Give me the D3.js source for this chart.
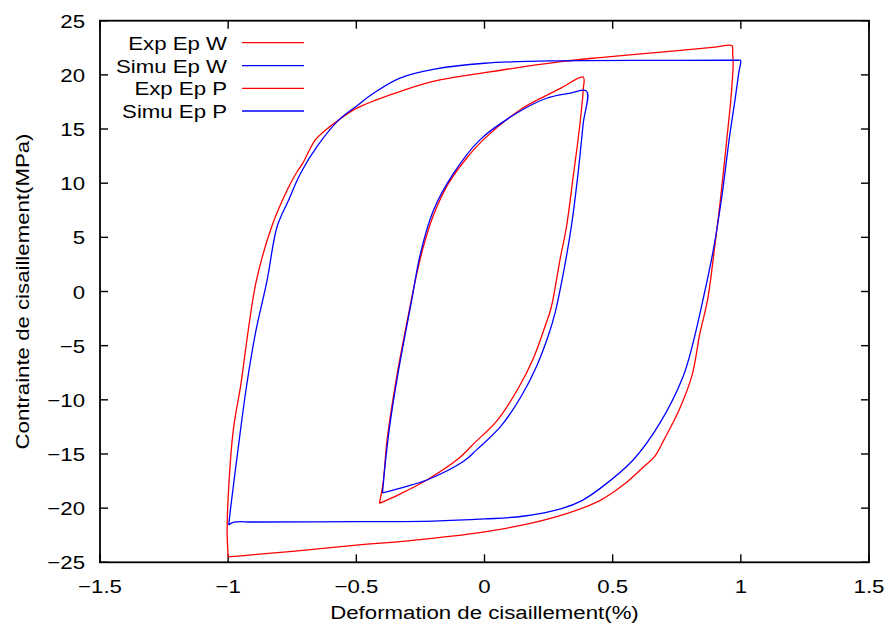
<!DOCTYPE html>
<html><head><meta charset="utf-8">
<script src="https://cdn.jsdelivr.net/npm/d3@7"></script>
<style>body{margin:0;background:#fff} svg{display:block} text{font-family:"Liberation Sans",Arial,sans-serif;font-size:19px;fill:#000}</style>
</head><body><svg id="c" width="890" height="632"></svg>
<script>
// ---- data ----
const xTicks = [-1.5, -1, -0.5, 0, 0.5, 1, 1.5];
const yTicks = [-25, -20, -15, -10, -5, 0, 5, 10, 15, 20, 25];
const xLabel = "Deformation de cisaillement(%)";
const yLabel = "Contrainte de cisaillement(MPa)";
const seriesNames = ["Exp Ep W", "Simu Ep W", "Exp Ep P", "Simu Ep P"];
const seriesColors = ["#ff0000", "#0000ff", "#ff0000", "#0000ff"];

const expW_x = [-1.0, -0.9, -0.75, -0.54, -0.25, 0.0, 0.25, 0.45, 0.55, 0.62, 0.665, 0.70, 0.76, 0.81, 0.84, 0.87, 0.90, 0.92, 0.945, 0.962, 0.97, 0.968, 0.965,
  0.9, 0.7, 0.45, 0.29, 0.0, -0.2, -0.35, -0.5, -0.57, -0.62, -0.66, -0.71, -0.73, -0.765, -0.83, -0.89, -0.92, -0.95, -0.98, -1.0, -1.004, -1.0];
const expW_y = [-24.5, -24.3, -24.0, -23.5, -22.9, -22.2, -21.0, -19.3, -17.7, -16.2, -15.2, -13.7, -10.9, -7.7, -3.9, -0.8, 4.5, 8.4, 14.0, 18.0, 21.1, 22.0, 22.7,
  22.56, 22.13, 21.6, 21.2, 20.2, 19.4, 18.3, 16.9, 15.8, 14.9, 14.0, 11.8, 11.1, 9.6, 6.0, 1.0, -3.3, -8.5, -12.8, -19.0, -22.3, -24.5];

const simW_x = [-0.998, -0.978, -0.9, -0.5, -0.2, 0.0, 0.15, 0.3, 0.38, 0.45, 0.578, 0.683, 0.774, 0.813, 0.852, 0.89, 0.924, 0.956, 0.978, 0.992, 0.999,
  0.99, 0.95, 0.7, 0.3, 0.0, -0.2, -0.33, -0.433, -0.5, -0.57, -0.653, -0.718, -0.764, -0.809, -0.848, -0.894, -0.93, -0.96, -0.99, -0.998];
const simW_y = [-21.56, -21.3, -21.28, -21.25, -21.2, -21.0, -20.75, -20.05, -19.3, -18.2, -15.6, -12.2, -7.9, -4.8, -0.8, 3.5, 8.45, 14.3, 17.8, 20.2, 21.35,
  21.35, 21.35, 21.34, 21.3, 21.07, 20.5, 19.7, 18.3, 17.1, 15.8, 13.4, 10.9, 8.45, 6.0, 1.06, -3.9, -9.0, -14.3, -19.9, -21.56];

const expP_x = [-0.41, -0.402, -0.394, -0.38, -0.342, -0.303, -0.27, -0.24, -0.2, -0.14, -0.07, -0.005, 0.138, 0.216, 0.3, 0.385,
  0.385, 0.37, 0.346, 0.32, 0.295, 0.26, 0.235, 0.19, 0.13, 0.05, -0.04, -0.1, -0.225, -0.33, -0.41];
const expP_y = [-19.56, -18.6, -17.4, -13.7, -7.8, -2.9, 1.0, 4.0, 7.0, 10.0, 12.3, 14.0, 16.76, 17.8, 18.8, 19.8,
  18.6, 15.0, 10.6, 6.0, 3.0, -1.5, -3.3, -6.2, -9.0, -11.9, -14.0, -15.4, -17.4, -18.7, -19.56];

const simP_x = [-0.398, -0.395, -0.39, -0.372, -0.34, -0.284, -0.25, -0.199, -0.121, -0.018, 0.125, 0.242, 0.33, 0.398,
  0.385, 0.365, 0.34, 0.31, 0.275, 0.25, 0.205, 0.145, 0.065, -0.03, -0.08, -0.225, -0.32, -0.398];
const simP_y = [-18.6, -17.8, -16.5, -12.8, -7.9, -0.8, 3.5, 7.5, 10.9, 14.0, 16.45, 17.84, 18.3, 18.5,
  15.5, 10.9, 6.2, 2.0, -2.0, -4.0, -6.8, -9.6, -12.4, -14.6, -15.65, -17.4, -18.1, -18.6];

// ---- chart ----
const svg = d3.select("#c");
const L = 100, R = 869, T = 20.7, B = 562.3;
const x = d3.scaleLinear().domain([-1.5, 1.5]).range([L, R]);
const y = d3.scaleLinear().domain([-25, 25]).range([B, T]);
const SX = 1.17;

function label(g, px, py, str, anchor, rot) {
  g.append("text").attr("text-anchor", anchor)
    .attr("transform", `translate(${px},${py}) rotate(${rot || 0}) scale(${SX},1)`)
    .text(str);
}

const gAx = svg.append("g");
const tickLen = 8;
xTicks.forEach(v => {
  gAx.append("line").attr("x1", x(v)).attr("x2", x(v)).attr("y1", B).attr("y2", B - tickLen).attr("stroke", "#000").attr("stroke-width", 1.4);
  gAx.append("line").attr("x1", x(v)).attr("x2", x(v)).attr("y1", T).attr("y2", T + tickLen).attr("stroke", "#000").attr("stroke-width", 1.4);
  label(gAx, x(v), B + 30.5, d3.format("")(v), "middle");
});
yTicks.forEach(v => {
  gAx.append("line").attr("x1", L).attr("x2", L + tickLen).attr("y1", y(v)).attr("y2", y(v)).attr("stroke", "#000").attr("stroke-width", 1.4);
  gAx.append("line").attr("x1", R).attr("x2", R - tickLen).attr("y1", y(v)).attr("y2", y(v)).attr("stroke", "#000").attr("stroke-width", 1.4);
  label(gAx, 85, y(v) + 7, d3.format("")(v), "end");
});
gAx.append("rect").attr("x", L).attr("y", T).attr("width", R - L).attr("height", B - T)
  .attr("fill", "none").attr("stroke", "#000").attr("stroke-width", 1.8);

label(svg, (L + R) / 2, 619, xLabel, "middle");
label(svg, 29, (T + B) / 2, yLabel, "middle", -90);

const line = d3.line().x(d => x(d[0])).y(d => y(d[1])).curve(d3.curveCatmullRom.alpha(0.5));
const series = [[expW_x, expW_y], [simW_x, simW_y], [expP_x, expP_y], [simP_x, simP_y]];
series.forEach((s, i) => {
  const pts = s[0].map((v, j) => [v, s[1][j]]);
  svg.append("path").attr("d", line(pts)).attr("fill", "none")
    .attr("stroke", seriesColors[i]).attr("stroke-width", 1.3).attr("stroke-linejoin", "miter");
});

// legend
const legY = [42.7, 65.7, 88.3, 111];
seriesNames.forEach((n, i) => {
  label(svg, 227, legY[i] + 7, n, "end");
  svg.append("line").attr("x1", 242).attr("x2", 304).attr("y1", legY[i]).attr("y2", legY[i])
    .attr("stroke", seriesColors[i]).attr("stroke-width", 1.3);
});
</script></body></html>
